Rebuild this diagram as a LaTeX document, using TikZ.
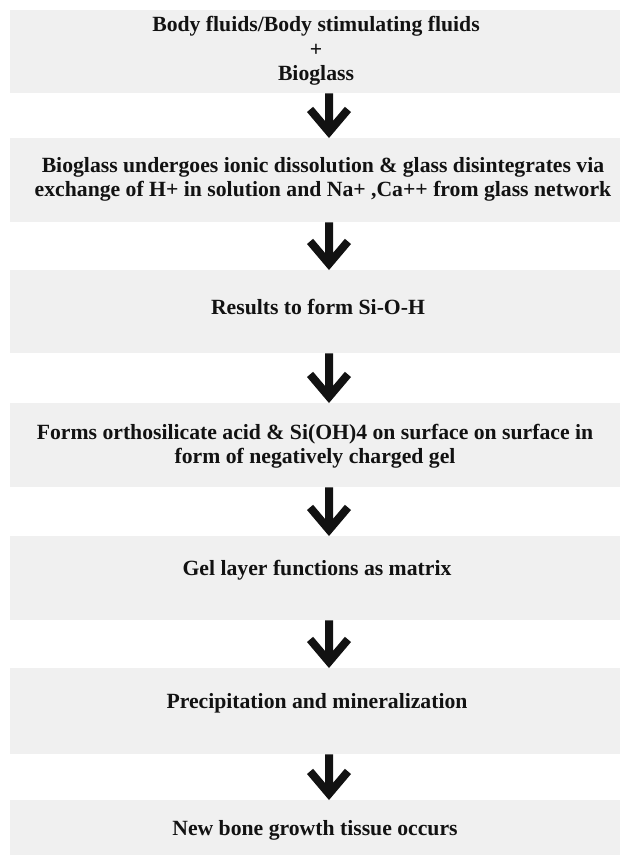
\documentclass[tikz,border=0pt]{standalone}
\usepackage{fontspec}
\setmainfont{Liberation Serif}
\usetikzlibrary{calc}
\definecolor{boxgray}{RGB}{240,240,240}
\definecolor{ink}{RGB}{18,18,18}
\newcommand\flowarrow[2]{%
  \fill[ink] let \p1=(#1.south), \p2=(#2.north) in
   (325pt,\y1) -- (333pt,\y1) -- (333pt,\y2+17.1pt) -- (344.9pt,\y2+31.2pt)
   -- (351pt,\y2+26pt) -- (329pt,\y2) -- (307pt,\y2+26pt) -- (313.1pt,\y2+31.2pt)
   -- (325pt,\y2+17.1pt) -- cycle;}
\begin{document}
\begin{tikzpicture}[x=1pt,y=-1pt,
  box/.style={fill=boxgray, draw=none, minimum width=610pt, inner sep=0pt, anchor=north west},
  lbl/.style={font=\fontsize{21.7}{24.5}\selectfont\bfseries, text=ink, align=center, inner sep=0pt}]
\useasboundingbox[fill=white] (0,0) rectangle (620,855);
\node[box, minimum height=83pt] (b1) at (10,10) {};
\node[box, minimum height=84pt] (b2) at (10,138) {};
\node[box, minimum height=83pt] (b3) at (10,270) {};
\node[box, minimum height=84pt] (b4) at (10,403) {};
\node[box, minimum height=84pt] (b5) at (10,536) {};
\node[box, minimum height=86pt] (b6) at (10,668) {};
\node[box, minimum height=55pt] (b7) at (10,800) {};
\node[lbl] (t1) at (316,51) {Body fluids/Body stimulating fluids\\+\\Bioglass};
\node[lbl] (t2) at (323,179.5) {Bioglass undergoes ionic dissolution \& glass disintegrates via\\exchange of H+ in solution and Na+ ,Ca++ from glass network};
\node[lbl, anchor=base] (t3) at (318,314) {Results to form Si-O-H};
\node[lbl] (t4) at (315,446) {Forms orthosilicate acid \& Si(OH)4 on surface on surface in\\form of negatively charged gel};
\node[lbl, anchor=base] (t5) at (317,575) {Gel layer functions as matrix};
\node[lbl, anchor=base] (t6) at (317,708) {Precipitation and mineralization};
\node[lbl, anchor=base] (t7) at (315,835) {New bone growth tissue occurs};
\flowarrow{b1}{b2}
\flowarrow{b2}{b3}
\flowarrow{b3}{b4}
\flowarrow{b4}{b5}
\flowarrow{b5}{b6}
\flowarrow{b6}{b7}
\end{tikzpicture}
\end{document}
